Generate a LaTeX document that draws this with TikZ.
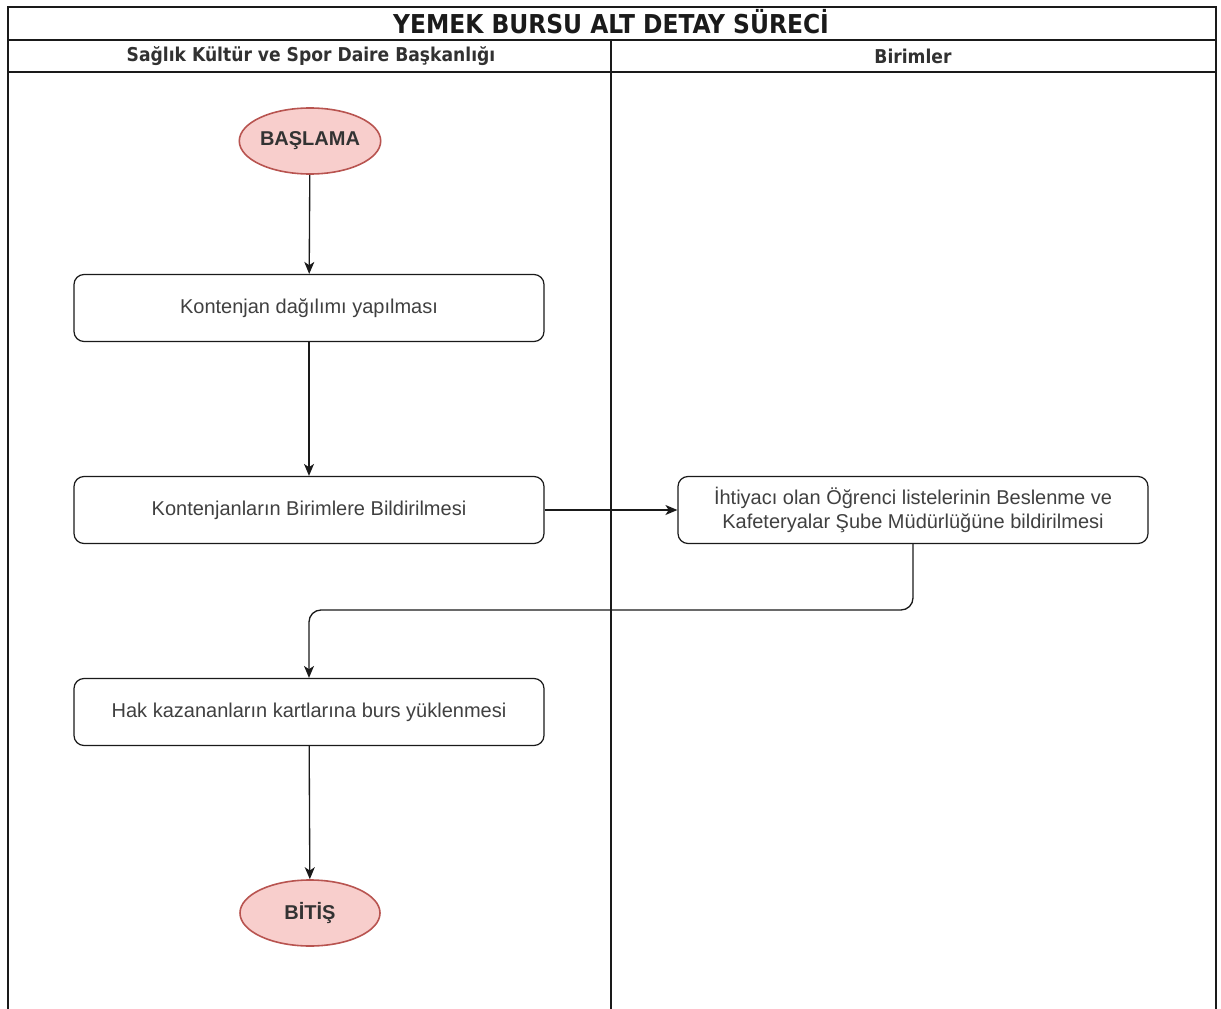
\documentclass[tikz,border=0pt]{standalone}
\usepackage{fontspec}
\setmainfont{Liberation Sans}
\newfontfamily\condfont{DejaVu Sans Condensed}
\usetikzlibrary{shapes.geometric,arrows.meta}
\definecolor{termfill}{HTML}{F8CECC}
\definecolor{termline}{HTML}{B85450}
\definecolor{ink}{HTML}{1A1A1A}
\begin{document}
\begin{tikzpicture}[x=0.75pt,y=-0.75pt,
  lane/.style={draw=ink,line width=1pt},
  laneTitle/.style={font=\condfont\bfseries\fontsize{19.5}{22}\selectfont,text=ink},
  laneHead/.style={font=\condfont\bfseries\fontsize{14.3}{17}\selectfont,text=ink!90},
  stepbox/.style={draw=ink,line width=0.9pt,rounded corners=7.5pt,fill=white,
    minimum width=352.5pt,minimum height=50.25pt,align=center,
    font=\fontsize{15}{18}\selectfont,text=black!75},
  term/.style={ellipse,draw=termline,line width=1.2pt,fill=termfill,
    minimum width=105pt,minimum height=49.5pt,inner sep=0pt,
    font=\bfseries\fontsize{15}{18}\selectfont,text=black!80},
  flow/.style={draw=ink,line width=1pt,-{Stealth[length=9pt,width=7.5pt,inset=2.5pt]}}]
\useasboundingbox (0,0) rectangle (1221,1009);
% swimlane frame
\draw[lane] (8,1009) -- (8,7) -- (1216,7) -- (1216,1009);
\draw[lane] (8,40) -- (1216,40);
\draw[lane] (8,72) -- (1216,72);
\draw[lane] (611,40) -- (611,1009);
\node[laneTitle] (title) at (611,22) {YEMEK BURSU ALT DETAY SÜRECİ};
\node[laneHead] (laneA) at (311,56) {Sağlık Kültür ve Spor Daire Başkanlığı};
\node[laneHead] (laneB) at (913,56) {Birimler};
% process steps
\node[term] (start) at (310,141) {BAŞLAMA};
\node[stepbox] (s1) at (309,308) {Kontenjan dağılımı yapılması};
\node[stepbox] (s2) at (309,510) {Kontenjanların Birimlere Bildirilmesi};
\node[stepbox] (s3) at (913,510) {İhtiyacı olan Öğrenci listelerinin Beslenme ve\\Kafeteryalar Şube Müdürlüğüne bildirilmesi};
\node[stepbox] (s4) at (309,712) {Hak kazananların kartlarına burs yüklenmesi};
\node[term] (finish) at (310,913) {BİTİŞ};
\coordinate (bend) at (611,610);
% connectors
\draw[flow] (start) -- (s1);
\draw[flow] (s1) -- (s2);
\draw[flow] (s2) -- (s3);
\draw[flow,rounded corners=9pt] (s3.south) |- (bend) -| (s4.north);
\draw[flow] (s4) -- (finish);
\end{tikzpicture}
\end{document}
